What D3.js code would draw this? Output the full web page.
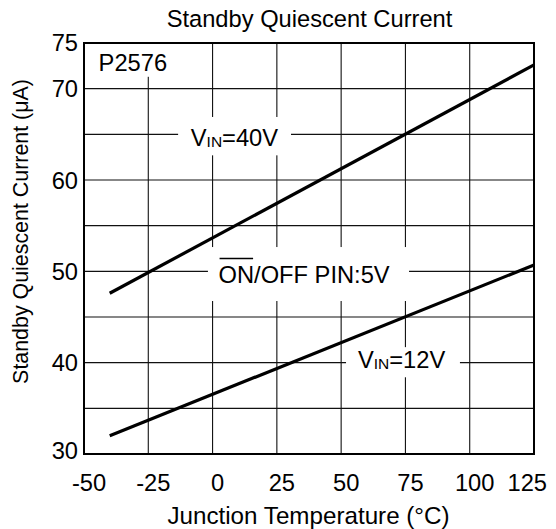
<!DOCTYPE html>
<html><head><meta charset="utf-8">
<script src="https://cdn.jsdelivr.net/npm/d3@7"></script>
<style>body{margin:0;background:#fff}</style>
</head><body>
<svg id="c" width="556" height="529"></svg>
<script>
// ---- data ----
const temps = [-40, 125];
const vin40 = [47.6, 72.6];
const vin12 = [32.0, 50.7];
const xTicks = [-50, -25, 0, 25, 50, 75, 100, 125];
const yTickLabels = [30, 40, 50, 60, 70, 75];
const yGridValues = [35, 40, 45, 50, 55, 60, 65, 70];
const xGridValues = [-25, 0, 25, 50, 75, 100];
const titleText = "Standby Quiescent Current";
const xTitle = "Junction Temperature (°C)";
const yTitle = "Standby Quiescent Current (μA)";

// ---- layout ----
const svg = d3.select("#c");
const FONT = "'Liberation Sans', Arial, Helvetica, sans-serif";
const FS = 23.7;
const x = d3.scaleLinear().domain([-50, 125]).range([84, 534]);
const y = d3.scaleLinear().domain([30, 75]).range([454, 43]);

svg.append("rect").attr("width", 556).attr("height", 529).attr("fill", "#fff");

// grid
const g = svg.append("g");
g.selectAll("line.v").data(xGridValues).join("line")
  .attr("x1", d => x(d)).attr("x2", d => x(d))
  .attr("y1", y(30)).attr("y2", y(75))
  .attr("stroke", "#111").attr("stroke-width", 1.1);
g.selectAll("line.h").data(yGridValues).join("line")
  .attr("y1", d => y(d)).attr("y2", d => y(d))
  .attr("x1", x(-50)).attr("x2", x(125))
  .attr("stroke", "#111").attr("stroke-width", 1.1);

// label boxes (white, hide grid)
const boxes = [
  {x0: -13.4, x1: 30.5, y0: 62.7, y1: 66.9},
  {x0: 51.9, x1: 96.2, y0: 38.4, y1: 41.7},
  {x0: -50, x1: -14, y0: 71.3, y1: 75},
  {x0: -1.8, x1: 76.4, y0: 46.75, y1: 52.66}
];
g.selectAll("rect.box").data(boxes).join("rect")
  .attr("x", d => x(d.x0)).attr("y", d => y(d.y1))
  .attr("width", d => x(d.x1) - x(d.x0)).attr("height", d => y(d.y0) - y(d.y1))
  .attr("fill", "#fff");

// frame
svg.append("rect").attr("x", x(-50)).attr("y", y(75))
  .attr("width", x(125) - x(-50)).attr("height", y(30) - y(75))
  .attr("fill", "none").attr("stroke", "#000").attr("stroke-width", 2);

// data lines
const line = d3.line().x(d => x(d[0])).y(d => y(d[1]));
[vin40, vin12].forEach(s => {
  svg.append("path").datum(temps.map((t, i) => [t, s[i]]))
    .attr("d", line).attr("fill", "none").attr("stroke", "#000")
    .attr("stroke-width", 3.2);
});

// y tick labels
svg.selectAll("text.yt").data(yTickLabels).join("text")
  .attr("x", 78).attr("y", d => y(d) + (d === 30 ? -4 : (d === 75 ? -1 : 0)) + 8.5)
  .attr("text-anchor", "end").attr("font-family", FONT).attr("font-size", FS)
  .text(d => d);

// x tick labels
svg.selectAll("text.xt").data(xTicks).join("text")
  .attr("x", d => d === 125 ? 547 : x(d) + 5)
  .attr("y", 490.5)
  .attr("text-anchor", d => d === 125 ? "end" : "middle")
  .attr("font-family", FONT).attr("font-size", FS)
  .text(d => d);

// titles
svg.append("text").attr("x", 309.5).attr("y", 27).attr("text-anchor", "middle")
  .attr("font-family", FONT).attr("font-size", FS).text(titleText);
svg.append("text").attr("x", 308.5).attr("y", 523.5).attr("text-anchor", "middle")
  .attr("font-family", FONT).attr("font-size", 24.2).text(xTitle);
svg.append("text").attr("transform", "translate(28,231.5) rotate(-90)")
  .attr("text-anchor", "middle")
  .attr("font-family", FONT).attr("font-size", 21.4).text(yTitle);

// annotations
function vin(cx, cy, val) {
  const t = svg.append("text").attr("x", x(cx)).attr("y", y(cy) + 8.5)
    .attr("text-anchor", "middle").attr("font-family", FONT).attr("font-size", FS);
  t.append("tspan").text("V");
  t.append("tspan").attr("font-size", 15.5).attr("dy", 1.5).text("IN");
  t.append("tspan").attr("dy", -1.5).text("=" + val);
}
vin(8.5, 64.7, "40V");
vin(73.5, 40.4, "12V");

svg.append("text").attr("x", x(-31)).attr("y", y(72.9) + 8.5)
  .attr("text-anchor", "middle").attr("font-family", FONT).attr("font-size", FS)
  .text("P2576");

const on = svg.append("text").attr("x", x(35.6)).attr("y", y(49.7) + 8.5)
  .attr("text-anchor", "middle").attr("font-family", FONT).attr("font-size", FS);
const onSpan = on.append("tspan").text("ON");
on.append("tspan").text("/OFF PIN:5V");
const bb = onSpan.node().getBBox();
svg.append("line").attr("x1", bb.x + 1).attr("x2", bb.x + bb.width - 1)
  .attr("y1", y(49.7) - 15.5).attr("y2", y(49.7) - 15.5)
  .attr("stroke", "#000").attr("stroke-width", 1.5);
</script>
</body></html>
